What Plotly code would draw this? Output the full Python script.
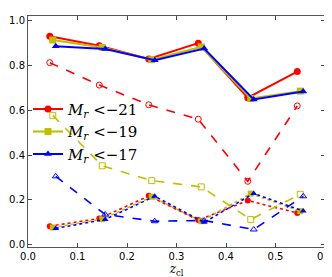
import plotly.graph_objects as go

z = [0.05, 0.15, 0.25, 0.35, 0.45, 0.55]
offsets = {"r21": -0.006, "r19": 0.0, "r17": 0.006}

# solid lines (top group)
solid_r21 = [0.930, 0.887, 0.828, 0.899, 0.656, 0.772]
solid_r19 = [0.913, 0.880, 0.825, 0.882, 0.652, 0.685]
solid_r17 = [0.885, 0.873, 0.823, 0.875, 0.648, 0.683]

# dashed lines (open markers)
dash_r21 = [0.812, 0.712, 0.624, 0.560, 0.283, 0.619]
dash_r19 = [0.577, 0.352, 0.286, 0.258, 0.113, 0.225]
dash_r17 = [0.305, 0.135, 0.105, 0.108, 0.068, 0.216]

# dotted lines (filled markers)
dot_r21 = [0.083, 0.117, 0.218, 0.110, 0.197, 0.142]
dot_r19 = [0.077, 0.114, 0.214, 0.105, 0.228, 0.150]
dot_r17 = [0.073, 0.113, 0.216, 0.100, 0.229, 0.150]

labels = ["<i>M</i><sub><i>r</i></sub> &lt;−21",
          "<i>M</i><sub><i>r</i></sub> &lt;−19",
          "<i>M</i><sub><i>r</i></sub> &lt;−17"]

RED, YEL, BLU = "#ff0000", "#bfbf00", "#0000ff"

fig = go.Figure()

def xs(key):
    return [v + offsets[key] for v in z]

specs = [
    ("r21", RED, "circle", solid_r21, dash_r21, dot_r21, labels[0]),
    ("r19", YEL, "square", solid_r19, dash_r19, dot_r19, labels[1]),
    ("r17", BLU, "triangle-up", solid_r17, dash_r17, dot_r17, labels[2]),
]

for key, col, sym, s, d, t, lab in specs:
    fig.add_trace(go.Scatter(x=xs(key), y=d, mode="lines+markers",
                             line=dict(color=col, width=1.6, dash="dash"),
                             marker=dict(symbol=sym + "-open", size=6, color=col, line=dict(width=1)),
                             showlegend=False))
    fig.add_trace(go.Scatter(x=xs(key), y=t, mode="lines+markers",
                             line=dict(color=col, width=1.6, dash="dot"),
                             marker=dict(symbol=sym, size=6, color=col),
                             showlegend=False))

for key, col, sym, s, d, t, lab in specs:
    fig.add_trace(go.Scatter(x=xs(key), y=s, mode="lines+markers", name=lab,
                             line=dict(color=col, width=2),
                             marker=dict(symbol=sym, size=7, color=col)))

axis_common = dict(showgrid=False, zeroline=False, ticks="inside", ticklen=4,
                   tickcolor="#444", showline=True, linecolor="#555", linewidth=1,
                   mirror="ticks", automargin=False,
                   tickfont=dict(family="DejaVu Sans", size=10, color="black"))

fig.update_layout(
    width=332, height=277,
    margin=dict(l=20, r=15, t=8, b=38),
    paper_bgcolor="white", plot_bgcolor="white",
    xaxis=dict(range=[0, 0.6], tickvals=[0, 0.1, 0.2, 0.3, 0.4, 0.5, 0.6],
               ticktext=["0.0", "0.1", "0.2", "0.3", "0.4", "0.5", "0.6"],
               title=dict(text="<i>z</i><sub>cl</sub>", font=dict(family="DejaVu Serif", size=12, color="black"),
                          standoff=2),
               **axis_common),
    yaxis=dict(range=[-0.01, 1.02], tickvals=[0, 0.2, 0.4, 0.6, 0.8, 1.0],
               ticktext=["0.0", "0.2", "0.4", "0.6", "0.8", "1.0"],
               **axis_common),
    legend=dict(x=0.0, y=0.668, xanchor="left", yanchor="top", bgcolor="rgba(0,0,0,0)",
                font=dict(family="DejaVu Serif", size=15, color="black"),
                tracegroupgap=0, itemwidth=30),
)

fig.write_html("out.html")
